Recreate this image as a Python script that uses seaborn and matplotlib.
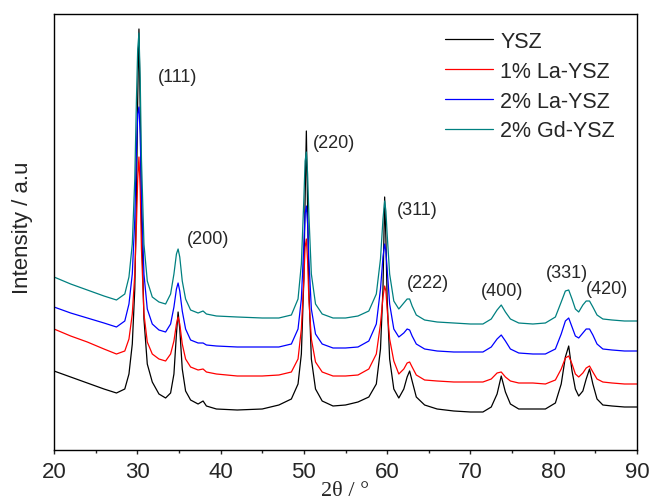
import numpy as np
import pandas as pd
import matplotlib
matplotlib.use("Agg")
import matplotlib.pyplot as plt
from matplotlib.ticker import MultipleLocator
import seaborn as sns

# 2-theta sample points (deg)
two_theta = [
    20, 22, 24, 26, 27.5, 28.5, 29.0, 29.4, 29.7, 29.9, 30.05, 30.2, 30.35, 30.5,
    30.8, 31.2, 31.8, 32.6, 33.4, 34.0, 34.4, 34.7, 34.9, 35.1, 35.4, 35.8, 36.4,
    37.3, 37.9, 38.3, 39.5, 42, 45, 47, 48.5, 49.3, 49.7, 50.0, 50.15, 50.3, 50.45,
    50.6, 50.9, 51.4, 52.2, 53.5, 55, 56.5, 57.8, 58.7, 59.2, 59.5, 59.7, 59.85,
    60.0, 60.3, 60.8, 61.4, 62.0, 62.4, 62.7, 63.0, 63.5, 64.5, 66, 68, 70, 71.5,
    72.5, 73.2, 73.7, 74.2, 74.8, 75.8, 77.5, 79, 80.2, 80.9, 81.4, 81.8, 82.2,
    82.6, 83.0, 83.5, 83.9, 84.3, 84.7, 85.2, 85.9, 87, 88.5, 90,
]

# intensities (a.u.), already stacked with the vertical offsets of the figure
ysz = [
    85, 79, 73, 67, 63, 67, 82, 112, 167, 257, 357, 427, 347, 237,
    137, 92, 74, 62, 58, 63, 82, 122, 144, 127, 87, 65, 56,
    52, 55, 50, 47, 46, 47, 51, 57, 72, 102, 177, 257, 325, 247,
    167, 97, 67, 55, 50, 51, 54, 59, 72, 107, 167, 259, 217,
    157, 97, 67, 58, 67, 79, 85, 75, 59, 51, 47, 45, 44, 44,
    49, 62, 80, 64, 52, 47, 47, 47, 53, 72, 99, 110, 85,
    67, 60, 65, 77, 87, 72, 57, 51, 50, 49, 49,
]
la1_ysz = [
    127, 120, 114, 107, 102, 105, 117, 142, 182, 232, 277, 299, 267, 207,
    142, 114, 102, 97, 95, 102, 115, 132, 139, 132, 112, 97, 89,
    86, 87, 84, 82, 80, 80, 81, 84, 97, 127, 177, 209, 217, 195,
    157, 117, 94, 84, 80, 80, 81, 87, 102, 132, 159, 170, 165,
    147, 117, 95, 82, 87, 93, 94, 89, 81, 76, 75, 74, 74, 74,
    77, 83, 84, 79, 75, 73, 73, 72, 76, 87, 98, 100, 92,
    82, 79, 83, 88, 90, 84, 77, 74, 73, 72, 72,
]
la2_ysz = [
    149, 143, 138, 133, 129, 135, 152, 182, 237, 307, 342, 349, 322, 262,
    182, 147, 132, 126, 124, 132, 149, 167, 173, 165, 145, 127, 116,
    113, 113, 111, 110, 109, 109, 109, 112, 127, 157, 212, 242, 250, 232,
    197, 147, 122, 112, 108, 108, 109, 115, 132, 167, 199, 212, 205,
    187, 152, 127, 119, 123, 127, 126, 120, 112, 107, 105, 104, 104, 104,
    109, 117, 121, 115, 107, 103, 102, 102, 107, 122, 135, 138, 129,
    120, 118, 123, 127, 127, 121, 112, 107, 106, 105, 105,
]
gd2_ysz = [
    179, 172, 166, 160, 156, 162, 179, 212, 277, 357, 407, 423, 377, 297,
    212, 175, 159, 154, 152, 162, 182, 202, 207, 199, 175, 157, 146,
    143, 145, 142, 140, 139, 138, 138, 141, 157, 192, 257, 295, 304, 282,
    242, 182, 152, 142, 138, 138, 140, 145, 162, 197, 237, 255, 245,
    222, 182, 155, 147, 153, 157, 157, 150, 141, 136, 134, 133, 132, 132,
    137, 146, 151, 144, 137, 133, 132, 133, 139, 154, 165, 166, 157,
    147, 144, 151, 155, 155, 149, 141, 137, 136, 135, 135,
]

samples = ["YSZ", "1% La-YSZ", "2% La-YSZ", "2% Gd-YSZ"]
colors = ["#000000", "#ff0000", "#0000ff", "#008080"]

# reflection labels
hkl_labels = ["(111)", "(200)", "(220)", "(311)", "(222)", "(400)", "(331)", "(420)"]
hkl_pos = [(34.8, 379), (38.5, 217), (53.6, 314), (63.6, 246),
           (64.9, 174), (73.8, 166), (81.6, 183), (86.4, 167)]

df = pd.DataFrame({
    "theta": two_theta * 4,
    "I": ysz + la1_ysz + la2_ysz + gd2_ysz,
    "sample": np.repeat(samples, len(two_theta)),
})

sns.set_style("ticks")
plt.rcParams["font.family"] = ["Liberation Sans", "DejaVu Sans"]

fig = plt.figure(figsize=(6.52, 5.02), dpi=100)
ax = fig.add_axes([54 / 652, 1 - 451 / 502, 583 / 652, 436 / 502])

sns.lineplot(data=df, x="theta", y="I", hue="sample", hue_order=samples,
             palette=colors, linewidth=0.9, ax=ax)

for txt, (x, y) in zip(hkl_labels, hkl_pos):
    ax.text(x, y, txt, ha="center", va="center", fontsize=13)

ax.set_xlim(20, 90)
ax.set_ylim(6, 442)
ax.xaxis.set_major_locator(MultipleLocator(10))
ax.xaxis.set_minor_locator(MultipleLocator(5))
ax.tick_params(axis="x", which="major", direction="out", length=3.2, width=1,
               labelsize=16, pad=5)
ax.tick_params(axis="x", which="minor", direction="out", length=2.4, width=1)
ax.set_yticks([])
for s in ax.spines.values():
    s.set_linewidth(1.0)
    s.set_color("black")

ax.set_xlabel("2θ / °", fontsize=16, family=["Liberation Serif", "DejaVu Serif"])
ax.xaxis.set_label_coords(0.5, -0.07)
ax.set_ylabel("Intensity / a.u", fontsize=16)
ax.yaxis.set_label_coords(-0.036, 0.511)

sns.move_legend(ax, "upper left", bbox_to_anchor=(0.671, 0.961), title=None,
                frameon=False, fontsize=15.5, handlelength=2.2,
                handletextpad=0.35, labelspacing=0.41, borderpad=0,
                borderaxespad=0)

fig.savefig("out.png", dpi=100)
